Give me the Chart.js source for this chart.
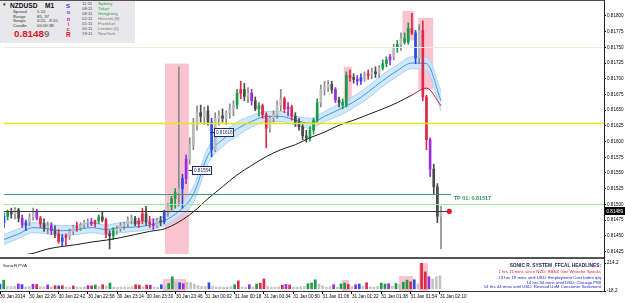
<!DOCTYPE html>
<html><head><meta charset="utf-8">
<script src="https://cdn.jsdelivr.net/npm/chart.js@4.4.1/dist/chart.umd.min.js"></script>
<style>
html,body{margin:0;padding:0;background:#fff}
#wrap{position:relative;width:625px;height:303px;overflow:hidden;background:#fff;font-family:"Liberation Sans",Arial,sans-serif}
canvas{position:absolute;left:0}
.t{position:absolute;white-space:nowrap;line-height:1}
.b{position:absolute}
</style></head><body>
<div id="wrap">
<canvas id="main" width="625" height="258" style="top:0;width:625px;height:258px"></canvas>
<canvas id="vol" width="625" height="45" style="top:258px;width:625px;height:45px"></canvas>
<div class="b" style="left:0;top:0;width:605px;height:1px;background:#505050"></div>
<div class="b" style="left:0;top:257px;width:605px;height:2px;background:#555"></div>
<div class="b" style="left:604px;top:0;width:1px;height:263px;background:#222"></div>

<div class="b" style="left:0;top:1px;width:135px;height:42px;background:#e8e8eb"></div>
<div class="t" style="left:2px;top:2.5px;font-size:4.5px;color:#222">▼</div>
<div class="t" style="left:10px;top:2.5px;font-size:6.6px;font-weight:bold;color:#111">NZDUSD</div>
<div class="t" style="left:45px;top:2.5px;font-size:6.6px;font-weight:bold;color:#111">M1</div>
<div class="t" style="left:13px;top:10px;font-size:4.3px;color:#333">Spread</div>
<div class="t" style="left:37px;top:10px;font-size:4.3px;color:#333">5.10</div>
<div class="t" style="left:13px;top:14.5px;font-size:4.3px;color:#333">Range</div>
<div class="t" style="left:37px;top:14.5px;font-size:4.3px;color:#333">85, 37</div>
<div class="t" style="left:13px;top:19px;font-size:4.3px;color:#333">Swaps</div>
<div class="t" style="left:37px;top:19px;font-size:4.3px;color:#333">4.55, -9.10</div>
<div class="t" style="left:13px;top:23.5px;font-size:4.3px;color:#333">Candle</div>
<div class="t" style="left:37px;top:23.5px;font-size:4.3px;color:#333">00:00:38</div>
<div class="t" style="left:14px;top:29px;font-size:9.8px;font-weight:bold;color:#e0142c">0.8148<span style="color:#7a7a7a">9</span></div>
<div class="t" style="left:66px;top:2.5px;font-size:6px;font-weight:bold;color:#1a3ee8">S</div>
<div class="t" style="left:66.5px;top:9px;font-size:6px;font-weight:bold;color:#5a3ae0">o</div>
<div class="t" style="left:66.5px;top:15.5px;font-size:6px;font-weight:bold;color:#9a38c8">n</div>
<div class="t" style="left:67.5px;top:21px;font-size:6px;font-weight:bold;color:#c83aa0">i</div>
<div class="t" style="left:66.5px;top:26px;font-size:6px;font-weight:bold;color:#e03070">c</div>
<div class="t" style="left:66px;top:31.5px;font-size:6.5px;font-weight:bold;color:#e01020">R</div>
<div class="t" style="left:82px;top:2px;font-size:4.3px;color:#444">11:11</div>
<div class="t" style="left:82px;top:7px;font-size:4.3px;color:#444">08:11</div>
<div class="t" style="left:82px;top:12px;font-size:4.3px;color:#444">08:11</div>
<div class="t" style="left:82px;top:17px;font-size:4.3px;color:#444">02:11</div>
<div class="t" style="left:82px;top:22px;font-size:4.3px;color:#444">01:11</div>
<div class="t" style="left:82px;top:27px;font-size:4.3px;color:#444">00:11</div>
<div class="t" style="left:82px;top:32px;font-size:4.3px;color:#444">19:11</div>
<div class="t" style="left:98px;top:2px;font-size:4.3px;color:#2a9a3a">Sydney</div>
<div class="t" style="left:98px;top:7px;font-size:4.3px;color:#2a9a3a">Tokyo</div>
<div class="t" style="left:98px;top:12px;font-size:4.3px;color:#2a9a3a">Hongkong</div>
<div class="t" style="left:98px;top:17px;font-size:4.3px;color:#777">Helsinki (8)</div>
<div class="t" style="left:98px;top:22px;font-size:4.3px;color:#777">Frankfurt</div>
<div class="t" style="left:98px;top:27px;font-size:4.3px;color:#777">London (0)</div>
<div class="t" style="left:98px;top:32px;font-size:4.3px;color:#777">NewYork</div>

<div class="t" style="left:3px;top:264px;font-size:4.4px;color:#222">SonicR PVA</div>
<div class="t" style="right:24px;top:263.5px;font-size:4.8px;font-weight:bold;color:#1c1c5c">SONIC R. SYSTEM&nbsp;&nbsp;FFCAL HEADLINES:</div>
<div class="t" style="right:24px;top:270.2px;font-size:4.3px;color:#e0203c">1 hrs 11 mins since NZD: RBNZ Gov Wheeler Speaks</div>
<div class="t" style="right:24px;top:275.6px;font-size:4.3px;color:#1a1ac8">13 hrs 19 mins until USD: Employment Cost Index q/q</div>
<div class="t" style="right:24px;top:280.6px;font-size:4.3px;color:#1a1ac8">14 hrs 34 mins until USD: Chicago PMI</div>
<div class="t" style="right:24px;top:285.2px;font-size:4.3px;color:#1a1ac8">14 hrs 44 mins until USD: Revised UoM Consumer Sentiment</div>
</div>
<script>
// ---- data (prices in points: 81489 = 0.81489) ----
const barMinutes=[0,2,4,6,8,10,12,14,16,18,20,22,24,26,28,30,32,34,36,38,40,42,44,46,48,50,52,54,56,58,60,62,64,66,68,70,72,74,76,78,80,82,84,86,88,90,92,94,96,98,100,102,104,106,108,110,112,114,116,118,120,122,124,126,128,130,132,134,136,138,140,142,144,146,148,150,152,154,156,158,160,162,164,166,168,170,172,174,176,178,180,182,184,186,188,190,192,194,196,198,200,202,204,206,208,210,212,214,216,218,220,222,224,226,228,230,232,234,236,238,240];
const openPts=[81471,81481,81488,81485,81491,81478,81467,81472,81480,81488,
81478,81469,81463,81466,81458,81453,81441,81447,81450,81457,
81464,81463,81467,81471,81472,81469,81474,81480,81475,81453,
81450,81458,81461,81466,81469,81475,81478,81469,81474,81485,
81472,81469,81466,81474,81472,81488,81497,81509,81519,81525,
81541,81572,81595,81626,81646,81640,81649,81631,81587,81637,
81641,81637,81646,81652,81658,81677,81683,81672,81677,81665,
81652,81657,81643,81621,81637,81643,81658,81668,81652,81655,
81640,81631,81624,81609,81606,81618,81634,81662,81683,81686,
81691,81683,81666,81662,81658,81705,81702,81699,81696,81702,
81705,81708,81711,81708,81717,81724,81730,81735,81749,81755,
81764,81758,81780,81773,81733,81777,81671,81603,81556,81528,
81481];
const highPts=[81486,81491,81494,81495,81494,81483,81475,81485,81494,81492,
81481,81477,81472,81471,81466,81460,81452,81453,81461,81467,
81472,81471,81475,81477,81478,81475,81483,81488,81478,81458,
81463,81466,81471,81472,81480,81483,81481,81478,81494,81497,
81481,81477,81478,81481,81491,81502,81513,81525,81719,81548,
81579,81606,81637,81657,81658,81655,81657,81637,81646,81649,
81652,81649,81660,81665,81683,81696,81693,81686,81683,81671,
81662,81660,81646,81641,81649,81665,81683,81671,81662,81658,
81646,81637,81627,81618,81624,81637,81668,81690,81696,81697,
81696,81686,81671,81668,81711,81714,81708,81705,81708,81711,
81714,81717,81719,81721,81730,81735,81739,81755,81761,81773,
81773,81789,81804,81777,81786,81792,81674,81606,81564,81533,
81497];
const lowPts=[81463,81475,81478,81477,81472,81463,81458,81466,81475,81475,
81463,81457,81453,81452,81447,81438,81433,81435,81444,81452,
81457,81458,81463,81464,81466,81464,81469,81472,81447,81429,
81444,81452,81457,81460,81464,81469,81466,81463,81469,81467,
81463,81460,81463,81466,81469,81481,81491,81494,81497,81494,
81533,81564,81587,81618,81631,81627,81626,81576,81584,81626,
81631,81627,81637,81641,81652,81668,81665,81662,81658,81649,
81641,81637,81590,81615,81631,81637,81649,81646,81641,81634,
81624,81618,81603,81599,81601,81612,81631,81655,81674,81680,
81677,81662,81655,81652,81655,81696,81693,81690,81691,81696,
81699,81700,81702,81702,81714,81719,81722,81730,81742,81745,
81755,81755,81770,81724,81724,81665,81587,81544,81517,81471,
81429];
const closePts=[81481,81488,81485,81491,81478,81467,81472,81480,81488,81478,
81469,81463,81466,81458,81453,81441,81447,81450,81457,81464,
81463,81467,81471,81472,81469,81474,81480,81475,81453,81450,
81458,81461,81466,81469,81475,81478,81469,81474,81485,81472,
81469,81466,81474,81472,81488,81497,81509,81519,81525,81541,
81572,81595,81626,81646,81640,81649,81631,81587,81637,81641,
81637,81646,81652,81658,81677,81683,81672,81677,81665,81652,
81657,81643,81621,81637,81643,81658,81668,81652,81655,81640,
81631,81624,81609,81606,81618,81634,81662,81683,81686,81691,
81683,81666,81662,81658,81705,81702,81699,81696,81702,81705,
81708,81711,81708,81717,81724,81730,81735,81749,81755,81764,
81758,81780,81773,81733,81777,81671,81603,81556,81528,81481,
81489];
const volumes=[40,72,20,18,22,40,35,16,20,38,
36,18,15,32,14,26,24,26,14,12,
24,14,12,15,26,25,32,18,34,22,
48,15,12,15,14,12,18,34,30,18,
32,30,14,12,34,20,44,100,55,50,
42,55,52,40,28,20,18,50,18,14,
16,12,14,18,34,66,14,12,34,16,
40,46,82,20,14,12,16,30,36,32,
14,12,18,20,42,48,75,40,25,12,
18,34,14,40,48,36,18,34,40,20,
50,16,14,20,48,40,42,20,44,36,
55,72,58,75,40,214,140,100,82,100,
108];
// PVA class: g climax bull, r climax bear, b rising bull, p rising bear, n normal
const pvaClass=['b','g','n','n','n','p','b','n','n','p',
'r','n','n','p','n','r','b','r','n','n',
'r','n','n','n','p','r','g','n','r','n',
'g','n','n','n','n','n','n','r','r','n',
'r','p','n','n','b','n','g','g','n','b',
'p','n','n','n','n','n','n','b','n','n',
'n','n','n','n','g','r','n','n','p','n',
'g','r','r','n','n','n','n','r','p','r',
'n','n','n','n','g','g','g','n','n','n',
'n','p','n','g','g','r','n','p','b','n',
'r','n','n','n','g','g','p','n','g','n',
'g','g','r','b','n','r','r','p','n','n',
'n'];
const maMinutes=[0,8,16,24,32,40,48,56,64,72,80,88,96,104,112,120,128,136,144,152,160,168,176,184,192,200,208,216,224,232,240];
const dragonHighPts=[81452,81461,81471,81469,81466,81467,81471,81467,81471,81472,81475,81481,81499,81528,81590,81613,81631,81641,81648,81648,81641,81637,81648,81660,81672,81688,81707,81722,81735,81735,81680];
const dragonMidPts=[81444,81453,81463,81461,81458,81460,81463,81460,81463,81464,81467,81474,81489,81516,81578,81603,81620,81632,81640,81640,81634,81629,81640,81651,81663,81679,81697,81713,81725,81724,81665];
const dragonLowPts=[81436,81446,81455,81453,81450,81452,81455,81452,81455,81457,81460,81466,81480,81503,81565,81592,81609,81623,81632,81632,81626,81621,81632,81641,81654,81669,81688,81704,81716,81713,81649];
const ema89Pts=[81412,81418,81422,81429,81433,81436,81440,81443,81447,81452,81457,81461,81472,81488,81509,81528,81547,81562,81576,81587,81595,81606,81615,81626,81634,81643,81652,81662,81674,81685,81657];
const priceTicks=[0.81800,0.81775,0.81750,0.81725,0.81700,0.81675,0.81650,0.81625,0.81600,0.81575,0.81550,0.81525,0.81500,0.81475,0.81450,0.81425];
const timeTickMinutes=[0,16,32,48,64,80,96,112,128,144,160,176,192,208,224,240];
const timeTickLabels=['30 Jan 2014','30 Jan 22:26','30 Jan 22:42','30 Jan 22:58','30 Jan 23:14','30 Jan 23:30','30 Jan 23:46','31 Jan 00:02','31 Jan 00:18','31 Jan 00:34','31 Jan 00:50','31 Jan 01:06','31 Jan 01:22','31 Jan 01:38','31 Jan 01:54','31 Jan 02:10'];
const volumeTicks=[-18.2,214.2];
const priceAxisMin=0.81421, priceAxisMax=0.81819, minuteAxisMax=329.5;
const yellowLevelPts=81630, faintLevelPts=81750, tpLevelPts=81517, greenLevelPts=81500, bidPts=81489;
const bidMarkerMinute=244.5, tpLineEndMinute=245.5, tpTextMinute=247;
const highlightZones=[[88.4,101.5,81724,81380],[186.6,191,81719,81662],[218.8,225.3,81808,81761],[227.5,235.7,81797,81683]];
const volumeZones=[[89,101.5,81],[186.6,190.5,73],[217.7,225.3,106],[228.6,233.5,214.2]];
const priceTags=[[103,81554],[115.1,81616]];

// ---- rendering ----
const P=v=>v/100000;
const FONT='"Liberation Sans", Arial, sans-serif';
Chart.defaults.font.family=FONT;
const classColor={g:'#1d9b4b',r:'#dc2a4a',b:'#2a4ee6',p:'#9b2de0'};
const isBull=i=>closePts[i]>=openPts[i];
const bodyColors=barMinutes.map((t,i)=>pvaClass[i]!=='n'?classColor[pvaClass[i]]:(isBull(i)?'#bababa':'#4a4a4a'));
const wickColors=barMinutes.map((t,i)=>pvaClass[i]!=='n'?classColor[pvaClass[i]]:(isBull(i)?'#8a8a8a':'#4a4a4a'));
const volColors=barMinutes.map((t,i)=>pvaClass[i]!=='n'?classColor[pvaClass[i]]:'#c4c4c4');
const ma=arr=>maMinutes.map((t,i)=>({x:t,y:P(arr[i])}));

const mainPlugin={
  id:'mainOverlay',
  beforeDatasetsDraw(chart){
    const {ctx,chartArea:a,scales:{x,y}}=chart;
    ctx.save();
    ctx.beginPath();ctx.rect(a.left,a.top,a.right-a.left,a.bottom-a.top);ctx.clip();
    ctx.fillStyle='#f9c4cf';
    highlightZones.forEach(z=>{
      const x0=x.getPixelForValue(z[0]),x1=x.getPixelForValue(z[1]);
      const y0=y.getPixelForValue(P(z[2])),y1=y.getPixelForValue(P(z[3]));
      ctx.fillRect(x0,y0,x1-x0,y1-y0);
    });
    ctx.restore();
  },
  beforeDatasetDraw(chart,args){
    if(args.index!==6) return;
    const {ctx,chartArea:a,scales:{x,y}}=chart;
    const hline=(pts,x1,color,w)=>{
      const yy=Math.round(y.getPixelForValue(P(pts)))+0.5;
      ctx.strokeStyle=color;ctx.lineWidth=w;ctx.beginPath();ctx.moveTo(a.left,yy);ctx.lineTo(x1,yy);ctx.stroke();
    };
    ctx.save();
    hline(faintLevelPts,a.right,'#efebdc',1);
    hline(yellowLevelPts,a.right,'#e6e614',1.5);
    hline(greenLevelPts,a.right,'#9de89d',1);
    hline(tpLevelPts,x.getPixelForValue(tpLineEndMinute),'#4f9a72',1);
    hline(bidPts,x.getPixelForValue(bidMarkerMinute),'#3a3a3a',1);
    ctx.restore();
  },
  afterDatasetsDraw(chart){
    const {ctx,scales:{x,y}}=chart;
    ctx.save();
    ctx.font='4.6px '+FONT;ctx.textBaseline='middle';
    priceTags.forEach(pt=>{
      const x0=Math.round(x.getPixelForValue(pt[0]))+0.5,yc=Math.round(y.getPixelForValue(P(pt[1])))+0.5;
      ctx.strokeStyle='#1a2a6a';ctx.lineWidth=1;
      ctx.beginPath();ctx.moveTo(x0-4,yc);ctx.lineTo(x0,yc);ctx.stroke();
      ctx.fillStyle='#fff';ctx.fillRect(x0,yc-4,19,8);
      ctx.strokeRect(x0,yc-4,19,8);
      ctx.fillStyle='#1a2a6a';ctx.fillText((pt[1]/100000).toFixed(5),x0+1.5,yc+0.3);
    });
    ctx.font='bold 5.4px '+FONT;ctx.fillStyle='#2c9a5a';ctx.textBaseline='middle';
    ctx.fillText('TP 01: '+(tpLevelPts/100000).toFixed(5),x.getPixelForValue(tpTextMinute),y.getPixelForValue(P(tpLevelPts))+4.5);
    ctx.restore();
  },
  afterDraw(chart){
    const {ctx,chartArea:a,scales:{y}}=chart;
    const yc=y.getPixelForValue(P(bidPts));
    ctx.save();
    ctx.fillStyle='#000';ctx.fillRect(a.right,Math.round(yc)-4,21,8);
    ctx.fillStyle='#fff';ctx.font='4.6px '+FONT;ctx.textBaseline='middle';
    ctx.fillText((bidPts/100000).toFixed(5),a.right+2.5,yc+0.3);
    ctx.restore();
  }
};

new Chart(document.getElementById('main'),{
  type:'bar',
  data:{datasets:[
    {type:'line',data:ma(dragonHighPts),borderColor:'#a8d2f4',borderWidth:1,backgroundColor:'rgba(204,229,252,0.9)',fill:'+1',pointRadius:0,cubicInterpolationMode:'monotone',order:10},
    {type:'line',data:ma(dragonLowPts),borderColor:'#a8d2f4',borderWidth:1,fill:false,pointRadius:0,cubicInterpolationMode:'monotone',order:9},
    {type:'line',data:ma(dragonMidPts),borderColor:'#3c94ec',borderWidth:1,fill:false,pointRadius:0,cubicInterpolationMode:'monotone',order:8},
    {type:'bar',data:barMinutes.map((t,i)=>({x:t,y:[P(lowPts[i]),P(highPts[i])]})),backgroundColor:wickColors,barThickness:1,grouped:false,borderWidth:0,order:3},
    {type:'bar',data:barMinutes.map((t,i)=>({x:t,y:[P(Math.min(openPts[i],closePts[i])),P(Math.max(openPts[i],closePts[i]))]})),backgroundColor:bodyColors,barThickness:2,grouped:false,borderWidth:0,minBarLength:1,order:2},
    {type:'line',data:ma(ema89Pts),borderColor:'#1a1a1a',borderWidth:1,fill:false,pointRadius:0,cubicInterpolationMode:'monotone',segment:{borderColor:c=>c.p0.parsed.x>=224?'#b8182a':undefined},order:1},
    {type:'line',data:[{x:bidMarkerMinute,y:P(bidPts)}],showLine:false,pointRadius:2.6,pointBackgroundColor:'#e8141e',pointBorderWidth:0,order:0}
  ]},
  options:{
    responsive:false,animation:false,devicePixelRatio:1,events:[],
    layout:{padding:{top:1,bottom:1,left:0,right:0}},
    plugins:{legend:{display:false},tooltip:{enabled:false}},
    scales:{
      x:{type:'linear',min:0,max:minuteAxisMax,offset:false,display:false},
      y:{type:'linear',position:'right',min:priceAxisMin,max:priceAxisMax,
        afterBuildTicks:s=>{s.ticks=priceTicks.map(v=>({value:v}));},
        afterFit:s=>{s.width=21;s.paddingTop=0;s.paddingBottom=0;},
        ticks:{font:{size:4.6,family:FONT},color:'#000',padding:1,callback:v=>Number(v).toFixed(5)},
        grid:{drawOnChartArea:false,tickLength:2,color:'#000'},
        border:{color:'#222',width:1}}
    }
  },
  plugins:[mainPlugin]
});

const volPlugin={
  id:'volOverlay',
  beforeDatasetsDraw(chart){
    const {ctx,chartArea:a,scales:{x,y}}=chart;
    ctx.save();ctx.fillStyle='#f9c4cf';
    volumeZones.forEach(z=>{
      const x0=x.getPixelForValue(z[0]),x1=x.getPixelForValue(z[1]);
      const y0=y.getPixelForValue(z[2]);
      ctx.fillRect(x0,y0,x1-x0,a.bottom-y0);
    });
    ctx.restore();
  }
};
new Chart(document.getElementById('vol'),{
  type:'bar',
  data:{datasets:[{data:barMinutes.map((t,i)=>({x:t,y:volumes[i]})),backgroundColor:volColors,barThickness:2,borderWidth:0,grouped:false}]},
  options:{
    responsive:false,animation:false,devicePixelRatio:1,events:[],
    layout:{padding:{top:5,bottom:0,left:0,right:0}},
    plugins:{legend:{display:false},tooltip:{enabled:false}},
    scales:{
      x:{type:'linear',min:0,max:minuteAxisMax,offset:false,position:'bottom',
        afterBuildTicks:s=>{s.ticks=timeTickMinutes.map(v=>({value:v}));},
        afterFit:s=>{s.height=12;s.paddingLeft=0;s.paddingRight=0;},
        ticks:{font:{size:4.6,family:FONT},color:'#000',padding:0,align:'start',maxRotation:0,autoSkip:false,
          callback:(v,i)=>timeTickLabels[timeTickMinutes.indexOf(v)]},
        grid:{drawOnChartArea:false,tickLength:3,color:'#000',offset:false},
        border:{color:'#333',width:1}},
      y:{type:'linear',position:'right',min:-18.2,max:214.2,
        afterBuildTicks:s=>{s.ticks=volumeTicks.map(v=>({value:v}));},
        afterFit:s=>{s.width=21;s.paddingTop=0;s.paddingBottom=0;},
        ticks:{font:{size:4.6,family:FONT},color:'#000',padding:1,callback:v=>Number(v).toFixed(1)},
        grid:{drawOnChartArea:false,tickLength:2,color:'#000'},
        border:{color:'#222',width:1}}
    }
  },
  plugins:[volPlugin]
});
</script>
</body></html>
